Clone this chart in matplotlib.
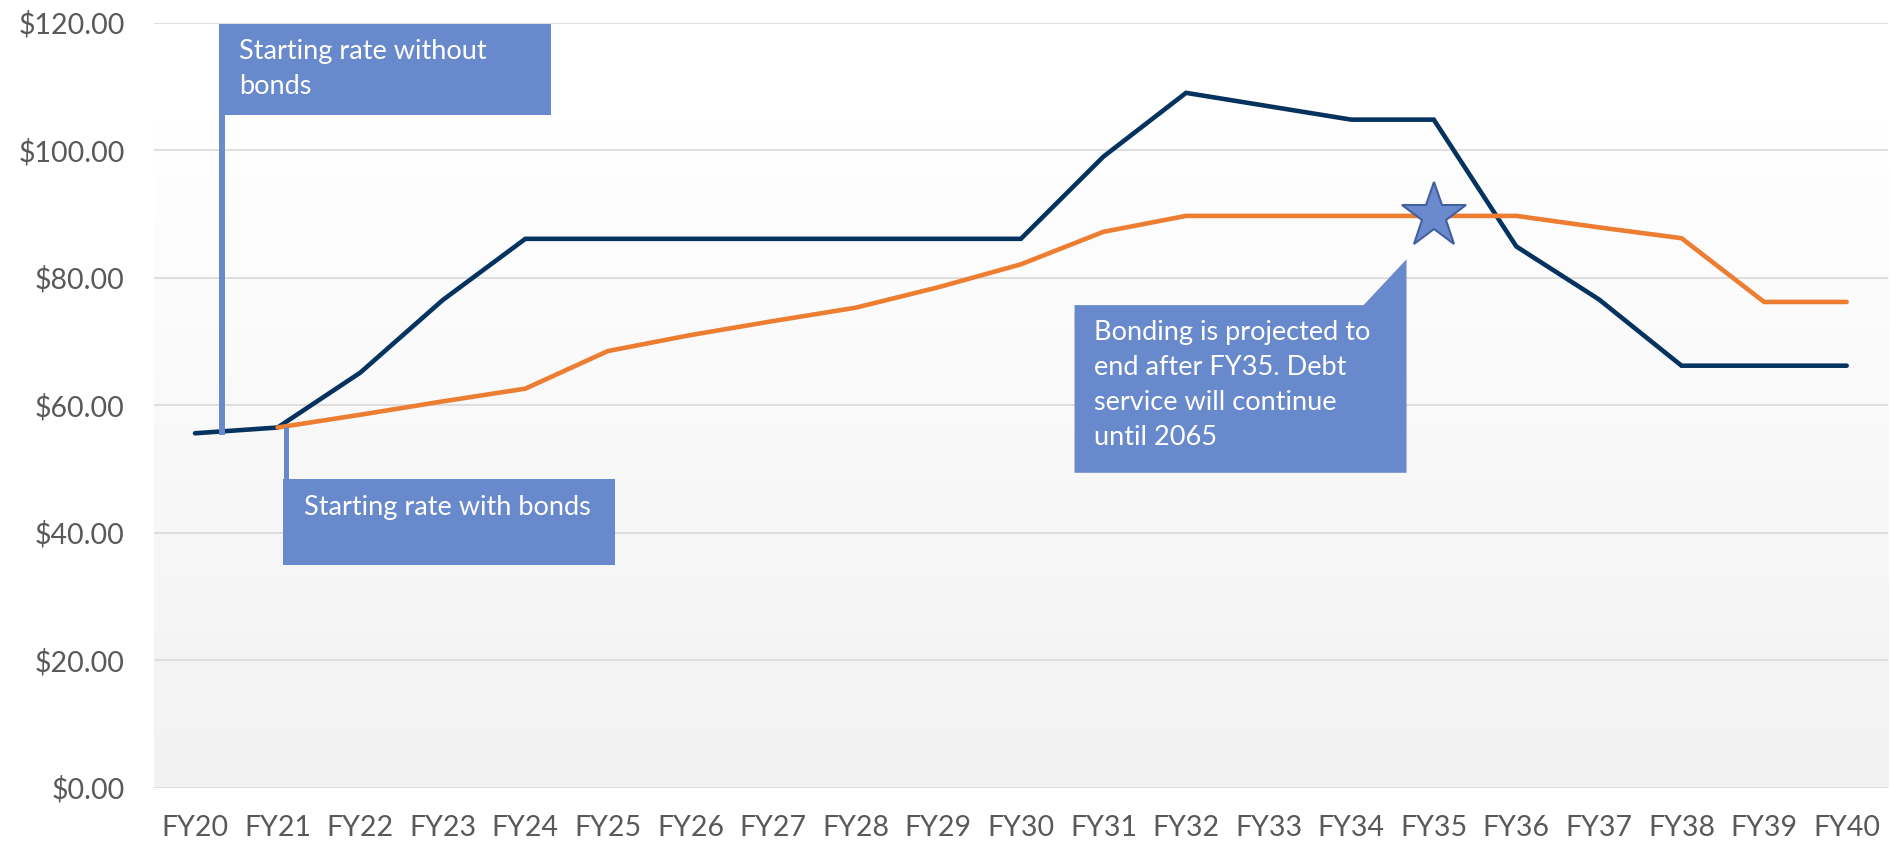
import numpy as np
import matplotlib.pyplot as plt
from matplotlib.patches import Polygon
from matplotlib.colors import LinearSegmentedColormap

plt.rcParams['font.family'] = ['Lato', 'DejaVu Sans']

years = ["FY20", "FY21", "FY22", "FY23", "FY24", "FY25", "FY26", "FY27", "FY28", "FY29", "FY30",
         "FY31", "FY32", "FY33", "FY34", "FY35", "FY36", "FY37", "FY38", "FY39", "FY40"]
without_bonds = [55.6, 56.5, 65.1, 76.5, 86.1, 86.1, 86.1, 86.1, 86.1, 86.1, 86.1,
                 99.0, 109.0, 106.9, 104.8, 104.8, 84.9, 76.6, 66.2, 66.2, 66.2]
with_bonds = [np.nan, 56.5, 58.5, 60.6, 62.6, 68.5, 71.0, 73.2, 75.3, 78.5, 82.1,
              87.2, 89.7, 89.7, 89.7, 89.7, 89.7, 87.9, 86.2, 76.2, 76.2]
y_ticks = [0, 20, 40, 60, 80, 100, 120]

navy = "#05335F"
orange = "#ED7D31"
callout = "#6889CB"
grey_txt = "#595959"

fig = plt.figure(figsize=(18.91, 8.42), dpi=100)
ax = fig.add_axes([0.0813, 0.0645, 0.9171, 0.9085])
x = np.arange(len(years))

# background gradient: white on top, light grey at the bottom
grad = np.interp(np.linspace(120, 0, 256), [0, 105, 120], [0, 1, 1]).reshape(-1, 1)
cmap = LinearSegmentedColormap.from_list('bg', ["#F2F2F2", "#FFFFFF"])
ax.imshow(grad, cmap=cmap, vmin=0, vmax=1, extent=[-0.5, 20.5, 0, 120], aspect='auto', zorder=0)

ax.plot(x, without_bonds, color=navy, lw=3.3, solid_capstyle='round', solid_joinstyle='miter', zorder=3)
ax.plot(x, with_bonds, color=orange, lw=3.3, solid_capstyle='round', solid_joinstyle='miter', zorder=3)

ax.set_xlim(-0.5, 20.5)
ax.set_ylim(0, 120)
ax.set_xticks(x)
ax.set_xticklabels(years)
ax.set_yticks(y_ticks)
ax.set_yticklabels(["$%.2f" % v for v in y_ticks])
ax.tick_params(length=0, labelsize=20.5, labelcolor=grey_txt)
ax.tick_params(axis='y', pad=21)
ax.tick_params(axis='x', pad=20)
ax.grid(axis='y', color="#D9D9D9", lw=1.2, zorder=1)
for s in ax.spines.values():
    s.set_visible(False)

# callout 1: starting rate without bonds
ax.add_patch(Polygon([(0.29, 105.6), (4.31, 105.6), (4.31, 119.8), (0.29, 119.8)],
                     closed=True, fc=callout, ec='none', zorder=5))
ax.plot([0.33, 0.33], [105.6, 55.4], color=callout, lw=4.3, solid_capstyle='butt', zorder=5)
ax.text(0.53, 117.5, "Starting rate without\nbonds", color='white', fontsize=19.5,
        va='top', ha='left', linespacing=1.5, zorder=6)

# callout 2: starting rate with bonds
ax.add_patch(Polygon([(1.07, 35.0), (5.09, 35.0), (5.09, 48.5), (1.07, 48.5)],
                     closed=True, fc=callout, ec='none', zorder=5))
ax.plot([1.10, 1.10], [56.6, 48.5], color=callout, lw=3.6, solid_capstyle='butt', zorder=5)
ax.text(1.32, 42.8, "Starting rate with bonds", color='white', fontsize=19.5,
        va='baseline', ha='left', zorder=6)

# callout 3: bonding end
ax.add_patch(Polygon([(10.65, 75.7), (14.15, 75.7), (14.67, 82.9), (14.67, 49.4), (10.65, 49.4)],
                     closed=True, fc=callout, ec='none', zorder=5))
ax.text(10.89, 73.3, "Bonding is projected to\nend after FY35. Debt\nservice will continue\nuntil 2065",
        color='white', fontsize=19.5, va='top', ha='left', linespacing=1.5, zorder=6)

# star marking end of bonding
ax.plot(15, with_bonds[15], marker='*', markersize=49, markerfacecolor="#6A8ACD",
        markeredgecolor="#41609F", markeredgewidth=1.5, zorder=7)

fig.savefig("out.png", dpi=100)
